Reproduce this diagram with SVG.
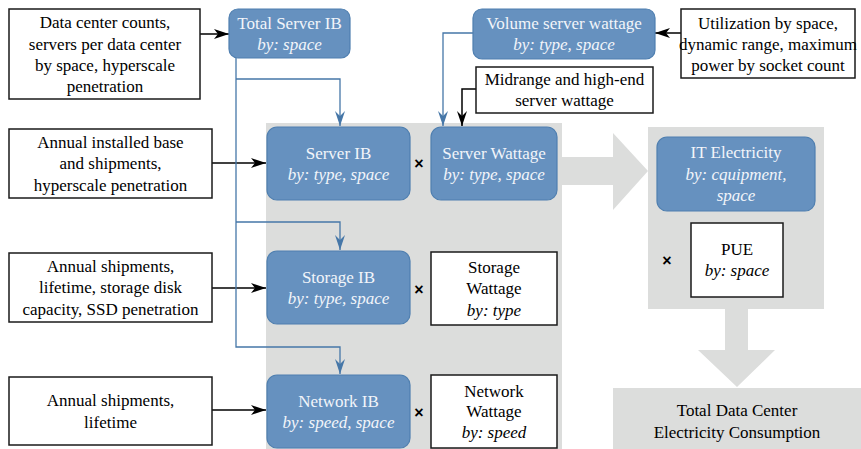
<svg xmlns="http://www.w3.org/2000/svg" width="861" height="449" viewBox="0 0 861 449">
<defs>
<style>
.w{fill:#ffffff;stroke:#1a1a1a;stroke-width:1.5}
.b{fill:#6691bf;stroke:#4f7fb0;stroke-width:1.2}
.grey{fill:#dcdddc}
.cb{fill:none;stroke:#4677a8;stroke-width:1.3}
.ck{fill:none;stroke:#000;stroke-width:1.5}
</style>
<marker id="ak" markerUnits="userSpaceOnUse" markerWidth="16" markerHeight="12" refX="15" refY="6" orient="auto">
<path d="M0,1 L15,6 L0,11 L4,6 z" fill="#000"/>
</marker>
<marker id="ab" markerUnits="userSpaceOnUse" markerWidth="12" markerHeight="16" refX="6" refY="15" orient="0">
<path d="M1,0 L6,15 L11,0 L6,5 z" fill="#4677a8"/>
</marker>
<marker id="akd" markerUnits="userSpaceOnUse" markerWidth="12" markerHeight="16" refX="6" refY="15" orient="0">
<path d="M1,0 L6,15 L11,0 L6,5 z" fill="#000"/>
</marker>
</defs>
<rect width="861" height="449" fill="#ffffff"/>

<g id="panels">
<rect class="grey" x="266" y="123" width="296" height="326"/>
<rect class="grey" x="648" y="127" width="176" height="182"/>
<polygon class="grey" points="562,157 613,157 613,133 648,171 613,210 613,185 562,185"/>
<polygon class="grey" points="725,309 748,309 748,350 775,350 737,387 698,350 725,350"/>
</g>

<g id="connectors">
<path class="ck" d="M200,34 L229,34" marker-end="url(#ak)"/>
<path class="ck" d="M681,33 L655,33" marker-end="url(#ak)"/>
<path class="ck" d="M212,163 L266,163" marker-end="url(#ak)"/>
<path class="ck" d="M212,288 L266,288" marker-end="url(#ak)"/>
<path class="ck" d="M212,410 L266,410" marker-end="url(#ak)"/>
<path class="ck" d="M476,89 L462,89 L462,126" marker-end="url(#akd)"/>
<path class="cb" d="M236,58 L236,347 L340,347 L340,374" marker-end="url(#ab)"/>
<path class="cb" d="M236,79 L340,79 L340,126" marker-end="url(#ab)"/>
<path class="cb" d="M236,222 L340,222 L340,250" marker-end="url(#ab)"/>
<path class="cb" d="M473,33 L443,33 L443,126" marker-end="url(#ab)"/>
</g>

<g id="n-datacenter">
<rect class="w" x="9" y="9" width="191" height="90"/>
<text style="font-family:'Liberation Serif',serif;font-size:17px;text-anchor:middle" x="105" y="28">Data center counts,</text>
<text style="font-family:'Liberation Serif',serif;font-size:17px;text-anchor:middle" x="105" y="50">servers per data center</text>
<text style="font-family:'Liberation Serif',serif;font-size:17px;text-anchor:middle" x="105" y="71">by space, hyperscale</text>
<text style="font-family:'Liberation Serif',serif;font-size:17px;text-anchor:middle" x="105" y="92">penetration</text>
</g>

<g id="n-totalserver">
<rect class="b" x="229" y="9" width="121" height="49" rx="9"/>
<text style="font-family:'Liberation Serif',serif;font-size:17px;text-anchor:middle;fill:#f2f5fa" x="289.5" y="29">Total Server IB</text>
<text style="font-family:'Liberation Serif',serif;font-size:17px;text-anchor:middle;fill:#f2f5fa;font-style:italic" x="289.5" y="50">by: space</text>
</g>

<g id="n-volume">
<rect class="b" x="473" y="9" width="182" height="50" rx="9"/>
<text style="font-family:'Liberation Serif',serif;font-size:17px;text-anchor:middle;fill:#f2f5fa" x="564" y="29">Volume server wattage</text>
<text style="font-family:'Liberation Serif',serif;font-size:17px;text-anchor:middle;fill:#f2f5fa;font-style:italic" x="564" y="50">by: type, space</text>
</g>

<g id="n-utilization">
<rect class="w" x="681" y="9" width="174" height="69"/>
<text style="font-family:'Liberation Serif',serif;font-size:17px;text-anchor:middle" x="768" y="29">Utilization by space,</text>
<text style="font-family:'Liberation Serif',serif;font-size:17px;text-anchor:middle" x="768" y="50">dynamic range, maximum</text>
<text style="font-family:'Liberation Serif',serif;font-size:17px;text-anchor:middle" x="768" y="71">power by socket count</text>
</g>

<g id="n-midrange">
<rect class="w" x="476" y="67" width="177" height="46"/>
<text style="font-family:'Liberation Serif',serif;font-size:17px;text-anchor:middle" x="564.5" y="85">Midrange and high-end</text>
<text style="font-family:'Liberation Serif',serif;font-size:17px;text-anchor:middle" x="564.5" y="106">server wattage</text>
</g>

<g id="n-annual-ib">
<rect class="w" x="9" y="129" width="203" height="69"/>
<text style="font-family:'Liberation Serif',serif;font-size:17px;text-anchor:middle" x="110.5" y="148">Annual installed base</text>
<text style="font-family:'Liberation Serif',serif;font-size:17px;text-anchor:middle" x="110.5" y="169">and shipments,</text>
<text style="font-family:'Liberation Serif',serif;font-size:17px;text-anchor:middle" x="110.5" y="191">hyperscale penetration</text>
</g>

<g id="n-serverib">
<rect class="b" x="267" y="127" width="143" height="73" rx="10"/>
<text style="font-family:'Liberation Serif',serif;font-size:17px;text-anchor:middle;fill:#f2f5fa" x="338.5" y="159">Server IB</text>
<text style="font-family:'Liberation Serif',serif;font-size:17px;text-anchor:middle;fill:#f2f5fa;font-style:italic" x="338.5" y="180">by: type, space</text>
</g>

<g id="n-serverwatt">
<rect class="b" x="431" y="127" width="126" height="73" rx="10"/>
<text style="font-family:'Liberation Serif',serif;font-size:17px;text-anchor:middle;fill:#f2f5fa" x="494" y="159">Server Wattage</text>
<text style="font-family:'Liberation Serif',serif;font-size:17px;text-anchor:middle;fill:#f2f5fa;font-style:italic" x="494" y="180">by: type, space</text>
</g>

<g id="n-annual-storage">
<rect class="w" x="9" y="253" width="203" height="69"/>
<text style="font-family:'Liberation Serif',serif;font-size:17px;text-anchor:middle" x="110.5" y="272">Annual shipments,</text>
<text style="font-family:'Liberation Serif',serif;font-size:17px;text-anchor:middle" x="110.5" y="293">lifetime, storage disk</text>
<text style="font-family:'Liberation Serif',serif;font-size:17px;text-anchor:middle" x="110.5" y="315">capacity, SSD penetration</text>
</g>

<g id="n-storageib">
<rect class="b" x="267" y="251" width="143" height="73" rx="10"/>
<text style="font-family:'Liberation Serif',serif;font-size:17px;text-anchor:middle;fill:#f2f5fa" x="338.5" y="283">Storage IB</text>
<text style="font-family:'Liberation Serif',serif;font-size:17px;text-anchor:middle;fill:#f2f5fa;font-style:italic" x="338.5" y="304">by: type, space</text>
</g>

<g id="n-storagewatt">
<rect class="w" x="431" y="252" width="126" height="73"/>
<text style="font-family:'Liberation Serif',serif;font-size:17px;text-anchor:middle" x="494" y="273">Storage</text>
<text style="font-family:'Liberation Serif',serif;font-size:17px;text-anchor:middle" x="494" y="294">Wattage</text>
<text style="font-family:'Liberation Serif',serif;font-size:17px;text-anchor:middle;font-style:italic" x="494" y="316">by: type</text>
</g>

<g id="n-annual-network">
<rect class="w" x="9" y="377" width="203" height="68"/>
<text style="font-family:'Liberation Serif',serif;font-size:17px;text-anchor:middle" x="110.5" y="406">Annual shipments,</text>
<text style="font-family:'Liberation Serif',serif;font-size:17px;text-anchor:middle" x="110.5" y="428">lifetime</text>
</g>

<g id="n-networkib">
<rect class="b" x="267" y="375" width="143" height="73" rx="10"/>
<text style="font-family:'Liberation Serif',serif;font-size:17px;text-anchor:middle;fill:#f2f5fa" x="338.5" y="407">Network IB</text>
<text style="font-family:'Liberation Serif',serif;font-size:17px;text-anchor:middle;fill:#f2f5fa;font-style:italic" x="338.5" y="428">by: speed, space</text>
</g>

<g id="n-networkwatt">
<rect class="w" x="431" y="375" width="126" height="73"/>
<text style="font-family:'Liberation Serif',serif;font-size:17px;text-anchor:middle" x="494" y="397">Network</text>
<text style="font-family:'Liberation Serif',serif;font-size:17px;text-anchor:middle" x="494" y="417">Wattage</text>
<text style="font-family:'Liberation Serif',serif;font-size:17px;text-anchor:middle;font-style:italic" x="494" y="438">by: speed</text>
</g>

<g id="n-itelec">
<rect class="b" x="657" y="137" width="158" height="74" rx="10"/>
<text style="font-family:'Liberation Serif',serif;font-size:17px;text-anchor:middle;fill:#f2f5fa" x="736" y="158">IT Electricity</text>
<text style="font-family:'Liberation Serif',serif;font-size:17px;text-anchor:middle;fill:#f2f5fa;font-style:italic" x="736" y="180">by: cquipment,</text>
<text style="font-family:'Liberation Serif',serif;font-size:17px;text-anchor:middle;fill:#f2f5fa;font-style:italic" x="736" y="201">space</text>
</g>

<g id="n-pue">
<rect class="w" x="691" y="223" width="92" height="74"/>
<text style="font-family:'Liberation Serif',serif;font-size:17px;text-anchor:middle" x="737" y="255">PUE</text>
<text style="font-family:'Liberation Serif',serif;font-size:17px;text-anchor:middle;font-style:italic" x="737" y="276">by: space</text>
</g>

<g id="n-total">
<rect class="grey" x="613" y="388" width="248" height="61"/>
<text style="font-family:'Liberation Serif',serif;font-size:17px;text-anchor:middle" x="737" y="416">Total Data Center</text>
<text style="font-family:'Liberation Serif',serif;font-size:17px;text-anchor:middle" x="737" y="438">Electricity Consumption</text>
</g>

<g id="times">
<text style="font-family:'Liberation Sans',sans-serif;font-size:16px;font-weight:bold;text-anchor:middle" x="419" y="169">×</text>
<text style="font-family:'Liberation Sans',sans-serif;font-size:16px;font-weight:bold;text-anchor:middle" x="419" y="295">×</text>
<text style="font-family:'Liberation Sans',sans-serif;font-size:16px;font-weight:bold;text-anchor:middle" x="419" y="418">×</text>
<text style="font-family:'Liberation Sans',sans-serif;font-size:16px;font-weight:bold;text-anchor:middle" x="667" y="266">×</text>
</g>
</svg>
